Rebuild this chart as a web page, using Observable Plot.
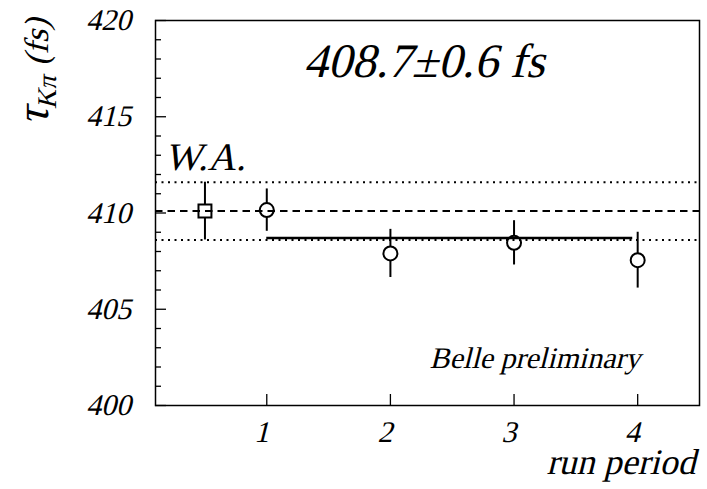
<!DOCTYPE html>
<html><head><meta charset="utf-8">
<script src="https://cdn.jsdelivr.net/npm/d3@7"></script>
<script src="https://cdn.jsdelivr.net/npm/@observablehq/plot@0.6"></script>
<style>body{margin:0;background:#fff}</style>
</head><body>
<script>
// ---- data ----
const runs = [1, 2, 3, 4];
const tau = [410.15, 407.9, 408.45, 407.55];
const tauErr = [1.1, 1.25, 1.15, 1.45];
const waPos = [0.5];
const waValue = [410.1];
const waErr = [1.5];
const fitValue = [408.7];
const fitRange = [1, 3.96];
const xDomain = [0.1, 4.5];
const yDomain = [400, 420];
const yLabelTicks = [400, 405, 410, 415, 420];
const yMinorTicks = [401,402,403,404,406,407,408,409,411,412,413,414,416,417,418,419];
const xTicks = [1, 2, 3, 4];
const resultText = ["408.7±0.6 fs"];
const waLabel = ["W.A."];
const stamp = ["Belle preliminary"];
const xTitle = ["run period"];
const yTitle = ["τKπ (fs)"];

// ---- tables built from the arrays ----
const points = runs.map((x, i) => ({x, y: tau[i], e: tauErr[i]}));
const wa = waPos.map((x, i) => ({x, y: waValue[i], e: waErr[i]}));
const waBand = waValue.flatMap((v, i) => [v + waErr[i], v - waErr[i]]);
const fit = fitValue.map(v => ({y: v, x1: fitRange[0], x2: fitRange[1]}));

const W = 707, H = 489, mL = 155, mR = 8, mT = 20, mB = 84;
const iW = W - mL - mR, iH = H - mT - mB;
const ink = "black";
const SERIF = "Liberation Serif, Times New Roman, Tinos, Times, DejaVu Serif, serif";

const chart = Plot.plot({
  width: W, height: H,
  marginLeft: mL, marginRight: mR, marginTop: mT, marginBottom: mB,
  style: {fontFamily: SERIF, fontStyle: "normal", background: "white", color: "black"},
  x: {domain: xDomain},
  y: {domain: yDomain},
  marks: [
    Plot.ruleX([...points, ...wa], {x: "x", y1: d => d.y - d.e, y2: d => d.y + d.e, stroke: ink, strokeWidth: 2}),
    Plot.dot(points, {x: "x", y: "y", r: 7, fill: "white", stroke: ink, strokeWidth: 2}),
    Plot.dot(wa, {x: "x", y: "y", symbol: "square", r: 7.3, fill: "white", stroke: ink, strokeWidth: 2}),
    Plot.ruleY(waBand, {stroke: ink, strokeWidth: 2, strokeDasharray: "2,4.5"}),
    Plot.ruleY(waValue, {stroke: ink, strokeWidth: 2, strokeDasharray: "7.5,5"}),
    Plot.ruleY(fit, {y: "y", x1: "x1", x2: "x2", stroke: ink, strokeWidth: 2.5}),
    Plot.ruleY(yMinorTicks, {insetRight: iW - 6, stroke: ink, strokeWidth: 1.3}),
    Plot.ruleY(yLabelTicks, {insetRight: iW - 11, stroke: ink, strokeWidth: 1.3}),
    Plot.ruleX(xTicks, {insetTop: iH - 11, stroke: ink, strokeWidth: 1.3}),
    Plot.axisY(yLabelTicks, {tickSize: 0, tickPadding: 22, fontSize: 30, label: null, tickFormat: d3.format("d"), fontFamily: SERIF}),
    Plot.axisX(xTicks, {tickSize: 0, tickPadding: 15, fontSize: 30, label: null, tickFormat: d3.format("d"), fontFamily: SERIF}),
    Plot.text(resultText, {text: d => d, frameAnchor: "top-left", textAnchor: "start", lineAnchor: "bottom", dx: 148, dy: 56, fontSize: 48, fontFamily: SERIF}),
    Plot.text(waLabel, {text: d => d, frameAnchor: "top-left", textAnchor: "start", lineAnchor: "bottom", dx: 9, dy: 149, fontSize: 39, fontFamily: SERIF}),
    Plot.text(stamp, {text: d => d, frameAnchor: "top-left", textAnchor: "start", lineAnchor: "bottom", dx: 274, dy: 347, fontSize: 30, fontFamily: SERIF}),
    Plot.text(xTitle, {text: d => d, frameAnchor: "bottom-right", textAnchor: "end", lineAnchor: "bottom", dx: -4, dy: 68, fontSize: 36, fontFamily: SERIF}),
    Plot.text(yTitle, {text: d => d, frameAnchor: "top-left", textAnchor: "end", lineAnchor: "bottom", rotate: -90, dx: -108, dy: -2, fontSize: 34, fontFamily: SERIF}),
    Plot.frame({stroke: ink, strokeWidth: 1.5})
  ]
});
chart.setAttribute("font-family", SERIF);
document.body.appendChild(chart);

// rich y title: τ with subscript Kπ
const t = [...chart.querySelectorAll("text")].find(e => e.textContent === yTitle[0]);
if (t) {
  t.textContent = "";
  const ns = "http://www.w3.org/2000/svg";
  const mk = (s, attrs) => { const el = document.createElementNS(ns, "tspan"); el.textContent = s; for (const k in attrs) el.setAttribute(k, attrs[k]); t.appendChild(el); };
  mk("τ", {"font-size": 46});
  mk("K", {"font-size": 27, dy: 8});
  mk("π", {"font-size": 27});
  mk(" (fs)", {dy: -8});
}

// serif family everywhere, italic lean as an oblique slant of the upright face
chart.querySelectorAll("text").forEach(el => {
  el.setAttribute("font-family", SERIF);
  el.setAttribute("font-style", "normal");
  el.style.fontFamily = SERIF;
  el.style.fontStyle = "normal";
  const tr = el.getAttribute("transform") || "";
  const x = +el.getAttribute("x") || 0, y = +el.getAttribute("y") || 0;
  el.setAttribute("transform", `${tr} translate(${x},${y}) skewX(-14) translate(${-x},${-y})`);
});
</script>
</body></html>
